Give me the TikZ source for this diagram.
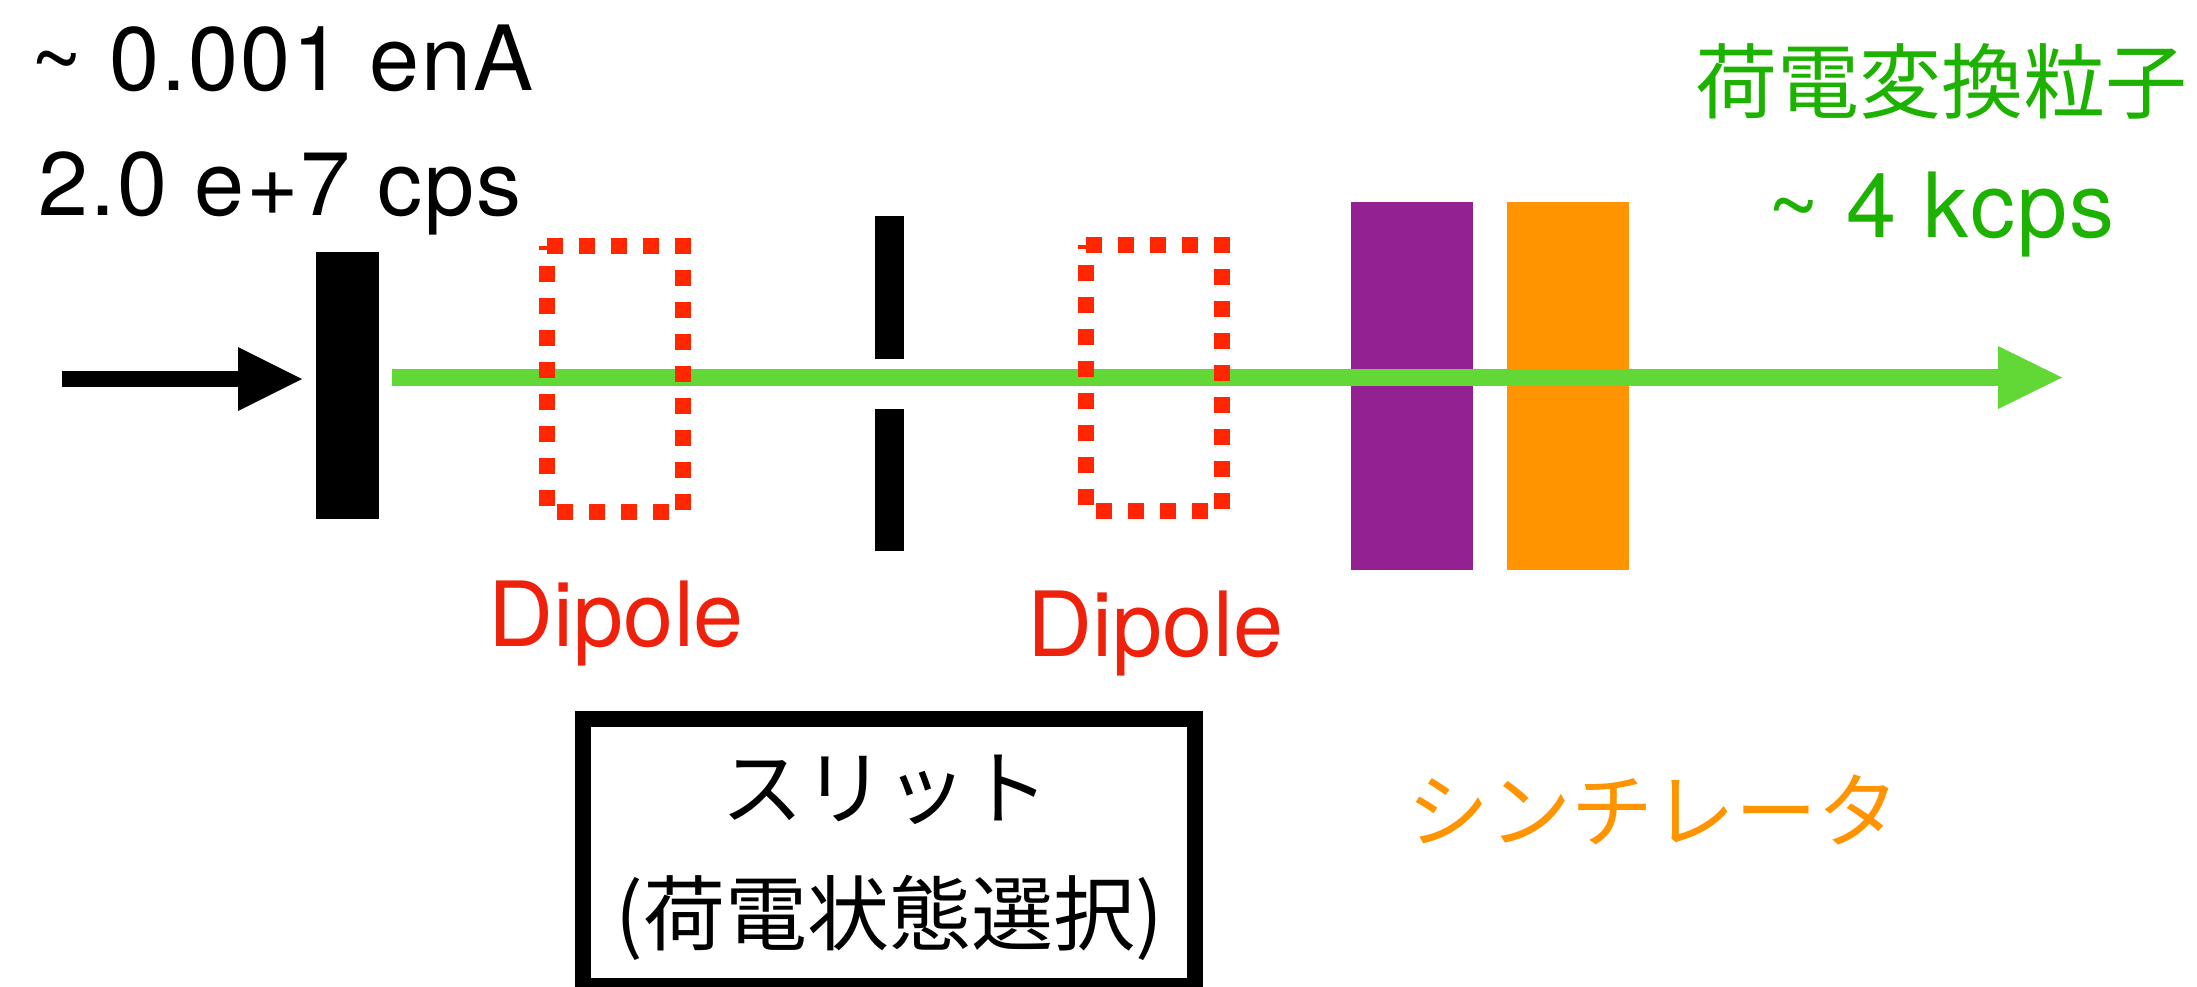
\documentclass[tikz,border=0pt]{standalone}
\usepackage{fontspec}
\setmainfont{TeX Gyre Heros}
\newfontfamily\jp{Noto Sans CJK JP}
\newfontfamily\numfont[LetterSpace=2.2]{TeX Gyre Heros}
\usetikzlibrary{arrows.meta}
\definecolor{beamgreen}{HTML}{61D836}
\definecolor{labelgreen}{HTML}{1DB100}
\definecolor{dipred}{HTML}{FF2600}
\definecolor{diptext}{HTML}{EE220C}
\definecolor{scipurple}{HTML}{942192}
\definecolor{scorange}{HTML}{FF9300}
\begin{document}
\begin{tikzpicture}[x=1pt,y=-1pt,
  lat/.style={inner sep=0pt, outer sep=0pt, font=\fontsize{90}{100}\selectfont},
  num/.style={inner sep=0pt, outer sep=0pt, font=\numfont\fontsize{90}{100}\selectfont},
  jpt/.style={inner sep=0pt, outer sep=0pt, font=\jp\fontsize{82}{90}\selectfont},
  block/.style={rectangle, inner sep=0pt, outer sep=0pt, draw=none},
  dipolearea/.style={rectangle, inner sep=0pt, outer sep=0pt, minimum width=136pt, minimum height=266pt},
  dipolebox/.style={draw=dipred, line width=16pt, dash pattern=on 16pt off 16pt},
  beam/.style={draw=beamgreen, line width=17pt, -{Triangle[length=64pt,width=63pt,line width=0pt]}, color=beamgreen},
  inbeam/.style={draw=black, line width=16pt, -{Triangle[length=64pt,width=64pt,line width=0pt]}},
  framebox/.style={rectangle, draw=black, line width=16pt, inner sep=0pt, outer sep=0pt, minimum width=612pt, minimum height=267pt}
]
\useasboundingbox (0,0) rectangle (2197,986);

% upper-left labels
\node[num, anchor=base west] (cur) at (30,90) {\textasciitilde{} 0.001 enA};
\node[num, anchor=base west] (rate) at (38,215) {2.0 e+7 cps};

% elements
\node[block, fill=black, minimum width=63pt, minimum height=267pt] (target) at (347.5,385.5) {};
\node[block, fill=black, minimum width=29pt, minimum height=143pt] (slitup) at (889.5,287.5) {};
\node[block, fill=black, minimum width=29pt, minimum height=142pt] (slitdown) at (889.5,480) {};
\node[block, fill=scipurple, minimum width=122pt, minimum height=368pt] (scA) at (1412,386) {};
\node[block, fill=scorange, minimum width=122pt, minimum height=368pt] (scB) at (1568,386) {};

% beams
\coordinate (bin) at (62,379);
\coordinate (btip) at (302,379);
\draw[inbeam] (bin) -- (btip);
\coordinate (gstart) at (392,377.5);
\coordinate (gend) at (2062,377.5);
\draw[beam] (gstart) -- (gend);

% dipoles
\node[dipolearea] (d1) at (615,378.5) {};
\node[dipolearea] (d2) at (1154,378.25) {};
\draw[dipolebox] (d1.north west) -- (d1.north east) -- (d1.south east) -- (d1.south west) -- cycle;
\draw[dipolebox] (d2.north west) -- (d2.north east) -- (d2.south east) -- (d2.south west) -- cycle;
\node[lat, text=diptext, anchor=base] (d1lab) at (616.5,646) {Dipole};
\node[lat, text=diptext, anchor=base] (d2lab) at (1155.5,656) {Dipole};

% right labels
\node[jpt, text=labelgreen] (conv) at (1941,81) {荷電変換粒子};
\node[num, text=labelgreen, anchor=base] (convrate) at (1941,237) {\textasciitilde{} 4 kcps};
\node[jpt, text=scorange] (scilab) at (1653,809.5) {シンチレータ};

% slit legend box
\node[framebox] (slitbox) at (889,852.5) {};
\node[jpt] (slitt1) at (885.5,789.5) {スリット};
\node[jpt] (slitt2) at (889,917.5) {(荷電状態選択)};
\end{tikzpicture}
\end{document}
